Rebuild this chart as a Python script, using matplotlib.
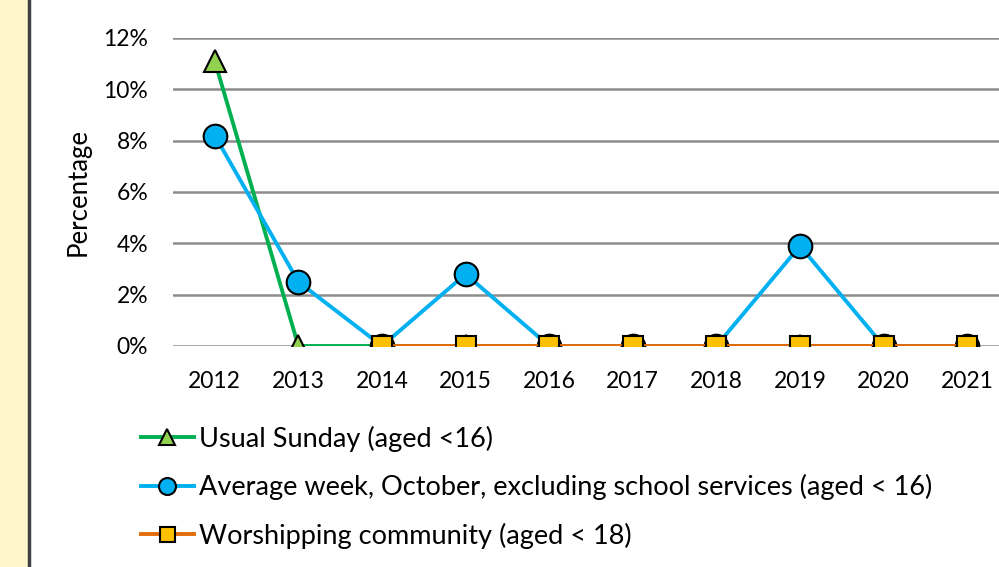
import matplotlib
matplotlib.use("Agg")
import matplotlib.pyplot as plt
from matplotlib.ticker import PercentFormatter
from matplotlib.patches import Rectangle
from matplotlib.lines import Line2D

plt.rcParams["font.family"] = ["Lato", "DejaVu Sans"]

# data (percent)
years = ["2012", "2013", "2014", "2015", "2016", "2017", "2018", "2019", "2020", "2021"]
usual_sunday = [11.1, 0, 0, 0, 0, 0, 0, 0, 0, 0]
average_week = [8.2, 2.5, 0, 2.8, 0, 0, 0, 3.9, 0, 0]
worshipping = [None, None, 0, 0, 0, 0, 0, 0, 0, 0]

labels = ["Usual Sunday (aged <16)",
          "Average week, October, excluding school services (aged < 16)",
          "Worshipping community (aged < 18)"]

fig = plt.figure(figsize=(9.99, 5.67), dpi=100)

# yellow strip on the left with dark border
fig.patches.append(Rectangle((0, 0), 28 / 999, 1, transform=fig.transFigure,
                             facecolor="#FFF5CC", edgecolor="none", zorder=0))
fig.lines.append(Line2D([29 / 999, 29 / 999], [0, 1], transform=fig.transFigure,
                        color="#404040", lw=2.5))

ax = fig.add_axes([173 / 999, 1 - 346 / 567, 836 / 999, 308 / 567])
x = list(range(len(years)))

ax.plot(x, usual_sunday, color="#00B050", lw=2.8, marker="^", ms=16,
        mfc="#92D050", mec="black", mew=1.5, label=labels[0], zorder=3)
ax.plot(x, average_week, color="#00B0F0", lw=2.8, marker="o", ms=17,
        mfc="#00B0F0", mec="black", mew=1.5, label=labels[1], zorder=4)
wx = [i for i, v in zip(x, worshipping) if v is not None]
wy = [v for v in worshipping if v is not None]
ax.plot(wx, wy, color="#E36C0A", lw=2.8, marker="s", ms=15,
        mfc="#FFC000", mec="black", mew=1.5, label=labels[2], zorder=5)

ax.set_xlim(-0.5, len(years) - 0.5)
ax.set_ylim(0, 12)
ax.set_yticks(range(0, 13, 2))
ax.yaxis.set_major_formatter(PercentFormatter(decimals=0))
ax.set_xticks(x)
ax.set_xticklabels(years)
ax.tick_params(axis="both", length=0, labelsize=16.5)
ax.tick_params(axis="x", pad=18)
ax.tick_params(axis="y", pad=18)
ax.grid(axis="y", color="#8C8C8C", lw=1.8)
ax.set_axisbelow(True)
for s in ax.spines.values():
    s.set_visible(False)

ax.set_ylabel("Percentage", fontsize=18.5)
ax.yaxis.set_label_coords(-0.098, 0.5)

fig.legend(loc="upper left", bbox_to_anchor=(130 / 999, 1 - 415 / 567),
           frameon=False, fontsize=19.5, handlelength=1.95, handletextpad=0.18,
           labelspacing=0.82, borderaxespad=0, markerscale=0.72)

fig.savefig("out.png", dpi=100)
